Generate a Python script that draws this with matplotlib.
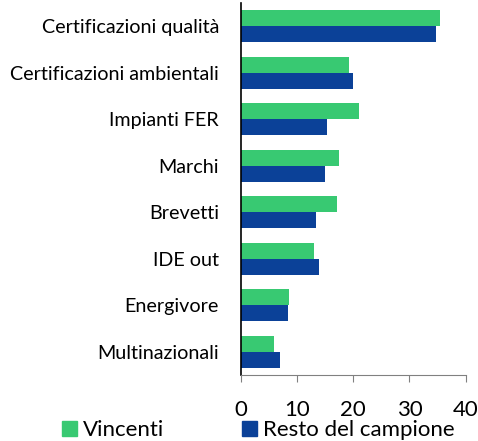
import numpy as np
import matplotlib.pyplot as plt
from matplotlib.patches import Patch

categorie = ["Certificazioni qualità", "Certificazioni ambientali", "Impianti FER",
             "Marchi", "Brevetti", "IDE out", "Energivore", "Multinazionali"]
vincenti = [35.5, 19.3, 21.0, 17.5, 17.1, 13.0, 8.6, 5.9]
resto = [34.8, 19.9, 15.3, 15.0, 13.3, 13.8, 8.4, 7.0]

verde = "#38C972"
blu = "#0B4198"

plt.rcParams['font.family'] = ['Lato', 'DejaVu Sans']

fig = plt.figure(figsize=(4.78, 4.41), dpi=100)
ax = fig.add_axes([0.5045, 0.150, 0.4695, 0.843])

y = np.arange(len(categorie))
h = 0.343
ax.barh(y - h / 2, vincenti, height=h, color=verde)
ax.barh(y + h / 2, resto, height=h, color=blu)

ax.set_ylim(len(categorie) - 0.5, -0.5)
ax.set_xlim(0, 40)
ax.set_xticks([0, 10, 20, 30, 40])
ax.set_yticks(y)
ax.set_yticklabels(categorie, fontsize=14.2)
ax.tick_params(axis='y', length=0, pad=16)
ax.tick_params(axis='x', direction='out', length=5, color='#808080', labelsize=16, pad=13)

for s in ['top', 'right']:
    ax.spines[s].set_visible(False)
ax.spines['left'].set_color('black')
ax.spines['left'].set_linewidth(1.2)
ax.spines['bottom'].set_color('#808080')

handles = [Patch(color=verde, label="Vincenti"), Patch(color=blu, label="Resto del campione")]
fig.legend(handles=handles, loc='lower left', bbox_to_anchor=(0.088, -0.043), ncol=2,
           frameon=False, fontsize=16, handlelength=0.65, handleheight=0.65,
           handletextpad=0.3, columnspacing=3.5)

fig.savefig("out.png", dpi=100)
